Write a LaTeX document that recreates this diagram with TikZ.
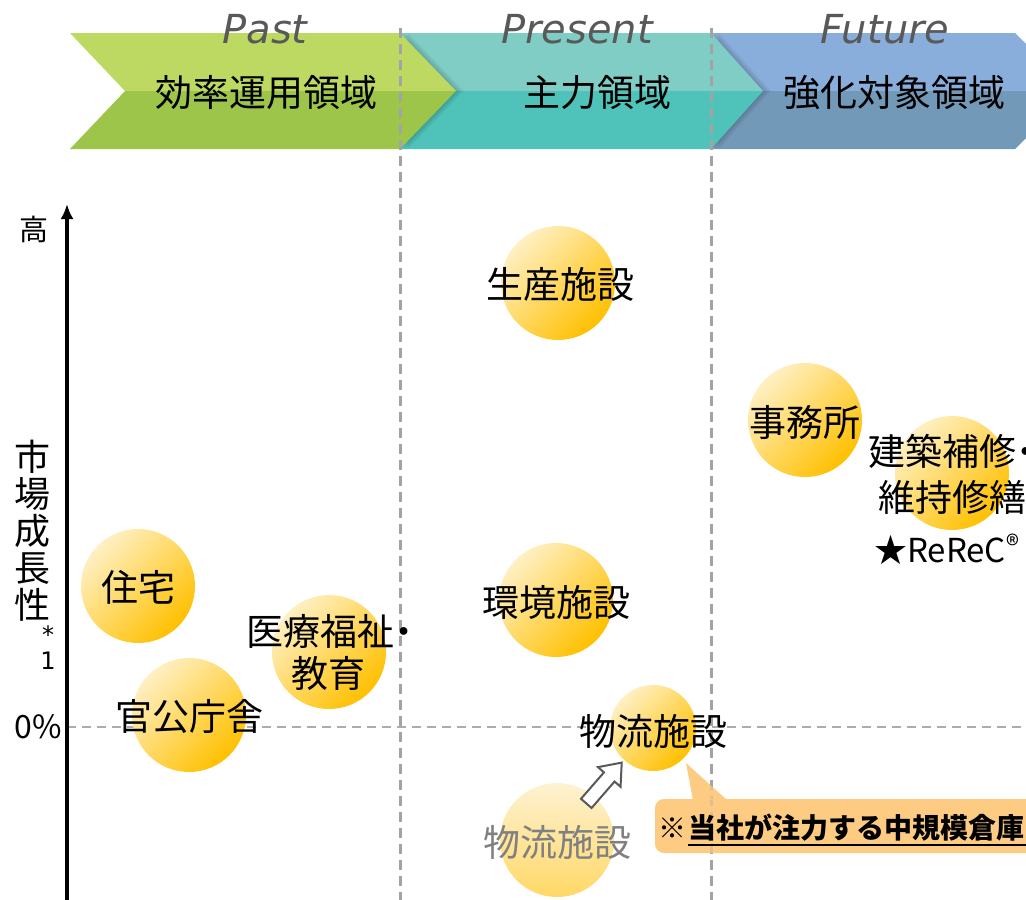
\documentclass[tikz,border=0pt]{standalone}
\usepackage{fontspec}
\setmainfont{Noto Sans CJK JP}
\newfontfamily\latinfont{DejaVu Sans}
\usetikzlibrary{arrows.meta}
\definecolor{gTop}{HTML}{BDD962}
\definecolor{gBot}{HTML}{9CC54A}
\definecolor{tTop}{HTML}{80CDC6}
\definecolor{tBot}{HTML}{4FC3B9}
\definecolor{bTop}{HTML}{8AAEDB}
\definecolor{bBot}{HTML}{7399B9}
\definecolor{dashgray}{HTML}{A3A3A3}
\definecolor{bubLight}{HTML}{FFF0C4}
\definecolor{bubDark}{HTML}{FFC000}
\definecolor{fadeLight}{HTML}{FEF2D2}
\definecolor{fadeDark}{HTML}{FFD866}
\definecolor{calloutcol}{HTML}{FDCB82}
\definecolor{timegray}{HTML}{595959}
\definecolor{fadetext}{HTML}{808080}
\definecolor{arrowedge}{HTML}{595959}
\begin{document}
\begin{tikzpicture}[x=1pt,y=-1pt,
  bubble/.style={circle, minimum size=114pt, inner sep=0pt, shading=axis,
     top color=bubLight, bottom color=bubDark, shading angle=45},
  smallbubble/.style={bubble, minimum size=86pt},
  fadebubble/.style={bubble, top color=fadeLight, bottom color=fadeDark},
  lbl/.style={font=\fontsize{37}{44}\selectfont, inner sep=0pt, align=center},
  fadelbl/.style={lbl, text=fadetext},
  bannerlbl/.style={font=\fontsize{37}{44}\selectfont, inner sep=0pt},
  timelbl/.style={font=\latinfont\itshape\fontsize{40}{44}\selectfont, text=timegray, inner sep=0pt, anchor=base},
  axislbl/.style={font=\fontsize{30}{36}\selectfont, inner sep=0pt, align=center},
  vdash/.style={dashgray, line width=3pt, dash pattern=on 10pt off 6pt},
  hdash/.style={dashgray!90, line width=2pt, dash pattern=on 9pt off 6pt},
  shadowtri/.style={fill=black, fill opacity=0.045},
]
\useasboundingbox (0,0) rectangle (1026,900);
\clip (0,0) rectangle (1026,900);

% ---------- banners ----------
\fill[bTop] (711,33) -- (1015,33) -- (1073,91) -- (711,91) -- cycle;
\fill[bBot] (711,91) -- (1073,91) -- (1015,149) -- (711,149) -- cycle;
\begin{scope}
  \clip (711,33) rectangle (1026,149);
  \foreach \d in {2,4,...,16}{
    \fill[shadowtri] (711-8+\d,33) -- (763-8+\d,91) -- (711-8+\d,149) -- cycle;
  }
\end{scope}
\fill[tTop] (400,33) -- (711,33) -- (763,91) -- (400,91) -- cycle;
\fill[tBot] (400,91) -- (763,91) -- (711,149) -- (400,149) -- cycle;
\begin{scope}
  \clip (400,33) rectangle (711,149);
  \foreach \d in {2,4,...,16}{
    \fill[shadowtri] (400-8+\d,33) -- (456-8+\d,91) -- (400-8+\d,149) -- cycle;
  }
\end{scope}
\fill[gTop] (70,33) -- (400,33) -- (456,91) -- (125,91) -- cycle;
\fill[gBot] (125,91) -- (456,91) -- (400,149) -- (70,149) -- cycle;

% ---------- dashed guide lines ----------
\coordinate (v1t) at (400,28);
\coordinate (v1b) at (400,900);
\coordinate (v2t) at (711,28);
\coordinate (v2b) at (711,900);
\coordinate (h0l) at (67,727);
\coordinate (h0r) at (1026,727);
\draw[vdash] (v1t) -- (v1b);
\draw[vdash] (v2t) -- (v2b);
\draw[hdash] (h0l) -- (h0r);

% ---------- banner labels ----------
\node[timelbl] (past) at (265,43) {Past};
\node[timelbl] (present) at (577,43) {Present};
\node[timelbl] (future) at (885,43) {Future};
\node[bannerlbl] (b1) at (266,93) {効率運用領域};
\node[bannerlbl] (b2) at (597,93) {主力領域};
\node[bannerlbl] (b3) at (894,93) {強化対象領域};

% ---------- axis ----------
\coordinate (ax0) at (67,900);
\coordinate (ax1) at (67,204);
\draw[line width=3.5pt, -{Latex[length=15pt,width=13pt]}] (ax0) -- (ax1);
\node[axislbl, font=\fontsize{29}{34}\selectfont] (high) at (34,229) {高};
\node[axislbl, font=\fontsize{36}{37}\selectfont] (ylab) at (33,531) {市\\場\\成\\長\\性};
\node[axislbl, font=\latinfont\fontsize{24}{26}\selectfont] (note) at (48,648) {*\\1};
\node[axislbl, font=\fontsize{32}{36}\selectfont] (zero) at (38,727) {0\%};

% ---------- bubbles ----------
\node[bubble] (c1) at (558,283) {};
\node[bubble] (c2) at (805,420) {};
\node[bubble] (c3) at (952,473) {};
\node[bubble] (c4) at (138,586) {};
\node[bubble] (c5) at (329,652) {};
\node[bubble] (c6) at (189,715) {};
\node[bubble] (c7) at (556,600) {};
\node[fadebubble] (c9) at (557,840) {};
\node[smallbubble] (c8) at (653,728) {};

% ---------- bubble labels ----------
\node[lbl] (t1) at (560,284) {生産施設};
\node[lbl] (t2) at (805,422) {事務所};
\node[lbl, anchor=west] (t3a) at (868,451) {建築補修\hspace{-9pt}・};
\node[lbl, anchor=west] (t3b) at (878,497) {維持修繕};
\node[lbl, anchor=west, font=\fontsize{33}{40}\selectfont] (t3c) at (874,549) {★ReReC\raisebox{7pt}{\fontsize{27}{30}\selectfont ®}};
\node[lbl] (t4) at (138,587) {住宅};
\node[lbl, anchor=west] (t5a) at (246,631) {医療福祉\hspace{-9pt}・};
\node[lbl] (t5b) at (328,673) {教育};
\node[lbl] (t6) at (189,717) {官公庁舎};
\node[lbl] (t7) at (556,602) {環境施設};
\node[fadelbl] (t9) at (557,842) {物流施設};
\node[lbl] (t8) at (653,731) {物流施設};

% ---------- hollow arrow (past -> present logistics) ----------
\begin{scope}[shift={(604,783)}, rotate=49]
  \filldraw[fill=white, draw=arrowedge, line width=2pt, line join=miter]
    (-27,-7) -- (8,-7) -- (8,-15) -- (27,0) -- (8,15) -- (8,7) -- (-27,7) -- cycle;
\end{scope}

% ---------- callout ----------
\coordinate (ptip) at (686,763);
\fill[calloutcol, rounded corners=9pt] (655,799) rectangle (1045,853);
\fill[calloutcol] (693,800) -- (ptip) -- (727,800) -- cycle;
\begin{scope}
  \clip (655,799) rectangle (1045,853) (693,800) -- (ptip) -- (727,800) -- cycle;
  \draw[vdash, draw opacity=0.3] (v2t) -- (v2b);
\end{scope}
\node[inner sep=0pt, font=\fontsize{28}{34}\selectfont] (kome) at (672,828) {※};
\node[inner sep=0pt, anchor=west, font=\bfseries\fontsize{28}{34}\selectfont] (ctext) at (688,828) {当社が注力する中規模倉庫};
\coordinate (ul0) at (688,845);
\coordinate (ul1) at (1030,845);
\draw[line width=2pt] (ul0) -- (ul1);
\end{tikzpicture}
\end{document}
